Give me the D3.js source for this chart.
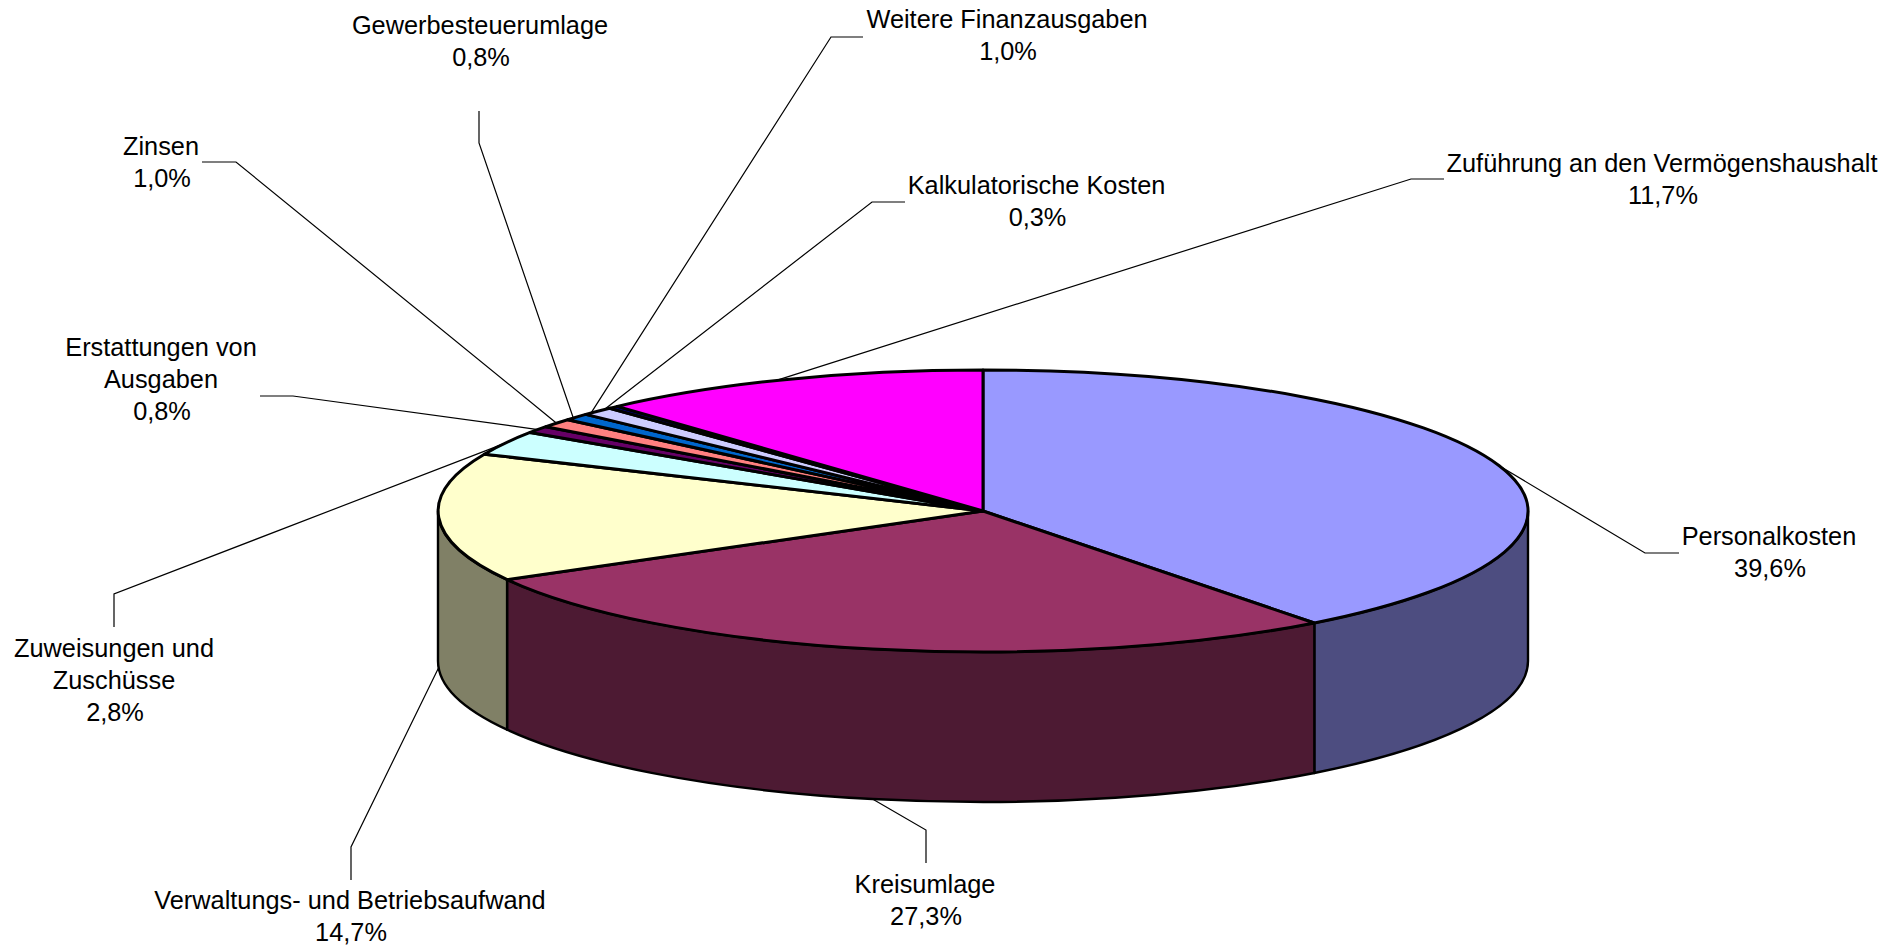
<!DOCTYPE html>
<html lang="de">
<head>
<meta charset="utf-8">
<title>Ausgaben Verwaltungshaushalt</title>
<script src="https://cdn.jsdelivr.net/npm/d3@7"></script>
<style>
    html, body { margin: 0; padding: 0; background: #fff; overflow: hidden; }
    svg { display: block; }
    text { font-family: "Liberation Sans", Arial, sans-serif; font-size: 25.33px; fill: #000; text-anchor: middle; }
    .leader { fill: none; stroke: #000; stroke-width: 1.2; }
    .slice { stroke: #000; stroke-width: 3; stroke-linejoin: round; vector-effect: non-scaling-stroke; }
    .wall { stroke: #000; stroke-width: 2.4; stroke-linejoin: round; vector-effect: non-scaling-stroke; }
</style>
</head>
<body>
<script>
// values in percent, clockwise from the top of the pie
var categories = [
    "Personalkosten",
    "Kreisumlage",
    "Verwaltungs- und Betriebsaufwand",
    "Zuweisungen und\nZuschüsse",
    "Erstattungen von\nAusgaben",
    "Zinsen",
    "Gewerbesteuerumlage",
    "Weitere Finanzausgaben",
    "Kalkulatorische Kosten",
    "Zuführung an den Vermögenshaushalt"
];
var values = [39.6, 27.3, 14.7, 2.8, 0.8, 1.0, 0.8, 1.0, 0.3, 11.7];
var sliceColors = ["#9999ff", "#993366", "#ffffcc", "#ccffff", "#660066", "#ff8080", "#0066cc", "#ccccff", "#000080", "#ff00ff"];

// label centre x, first baseline y, then the leader's end and elbow (same order as categories)
var labelX = [1769, 925, 350, 114, 161, 161, 480, 1007, 1036.5, 1662];
var labelY = [545, 893, 909, 657, 356, 155, 34, 28, 194, 172];
var leaderEnd = [[1679, 553], [926, 863], [351, 880], [114, 627], [260, 396], [202, 162], [479, 111], [863, 37], [905, 202], [1444, 179]];
var leaderElbow = [[1645, 553], [926, 830], [351, 847], [114, 594], [293, 396], [236, 162], [479, 143], [831, 37], [872, 202], [1411, 179]];
// the original's leaders meet the rim slightly before the slice middle, in degrees
var leaderShift = [0, 0, 0, 0, 0, 0, -0.5, -1, -1.4, -1.3];

var w = 1903;
var h = 948;
var cx = 983;
var cy = 511;
var rx = 545;
var ry = 141;
var depth = 150;
var lineHeight = 32;

var xScale = d3.scaleLinear().domain([-1, 1]).range([cx - rx, cx + rx]);
var yScale = d3.scaleLinear().domain([-1, 1]).range([cy - ry, cy + ry]);

var svg = d3.select("body").append("svg")
    .attr("width", w)
    .attr("height", h);

var arcs = d3.pie().sort(null).value(d => d)(values);
var pct = d3.formatLocale({decimal: ",", thousands: ".", grouping: [3], currency: ["", ""]}).format(".1f");

// leaders go first so the pie covers their inner end
svg.append("g").selectAll("path")
    .data(arcs)
    .enter()
    .append("path")
    .attr("class", "leader")
    .attr("d", function(d, i) {
        var mid = (d.startAngle + d.endAngle) / 2 + leaderShift[i] * Math.PI / 180;
        var front = mid > Math.PI / 2 && mid < 3 * Math.PI / 2;
        var start = [xScale(Math.sin(mid)), yScale(-Math.cos(mid)) + (front ? depth : 0)];
        return d3.line()([start, leaderElbow[i], leaderEnd[i]]);
    });

// everything on the pie is drawn in a unit circle and squeezed into the ellipse
var pie = svg.append("g")
    .attr("transform", "translate(" + cx + "," + cy + ") scale(" + rx + "," + ry + ")");

// only the front half of the rim is visible
var wallArcs = arcs
    .map(function(d, i) {
        return {
            a0: Math.max(d.startAngle, Math.PI / 2),
            a1: Math.min(d.endAngle, 3 * Math.PI / 2),
            color: sliceColors[i]
        };
    })
    .filter(d => d.a1 > d.a0);

pie.selectAll("path.wall")
    .data(wallArcs)
    .enter()
    .append("path")
    .attr("class", "wall")
    .attr("fill", function(d) {
        var c = d3.rgb(d.color);
        return d3.rgb(c.r / 2, c.g / 2, c.b / 2);
    })
    .attr("d", function(d) {
        var p = d3.path();
        var dz = depth / ry;
        p.arc(0, 0, 1, d.a0 - Math.PI / 2, d.a1 - Math.PI / 2);
        p.arc(0, dz, 1, d.a1 - Math.PI / 2, d.a0 - Math.PI / 2, true);
        p.closePath();
        return p.toString();
    });

pie.selectAll("path.slice")
    .data(arcs)
    .enter()
    .append("path")
    .attr("class", "slice")
    .attr("fill", (d, i) => sliceColors[i])
    .attr("d", d3.arc().innerRadius(0).outerRadius(1));

// labels, the percent is always the last line
var labels = svg.append("g").selectAll("text")
    .data(categories)
    .enter()
    .append("text")
    .attr("transform", (d, i) => "translate(" + labelX[i] + "," + labelY[i] + ")");

labels.selectAll("tspan")
    .data((d, i) => d.split("\n").concat(pct(values[i]) + "%"))
    .enter()
    .append("tspan")
    .attr("x", (d, i, nodes) => i == nodes.length - 1 ? 1 : 0)
    .attr("y", (d, i) => i * lineHeight)
    .text(d => d);
</script>
</body>
</html>
